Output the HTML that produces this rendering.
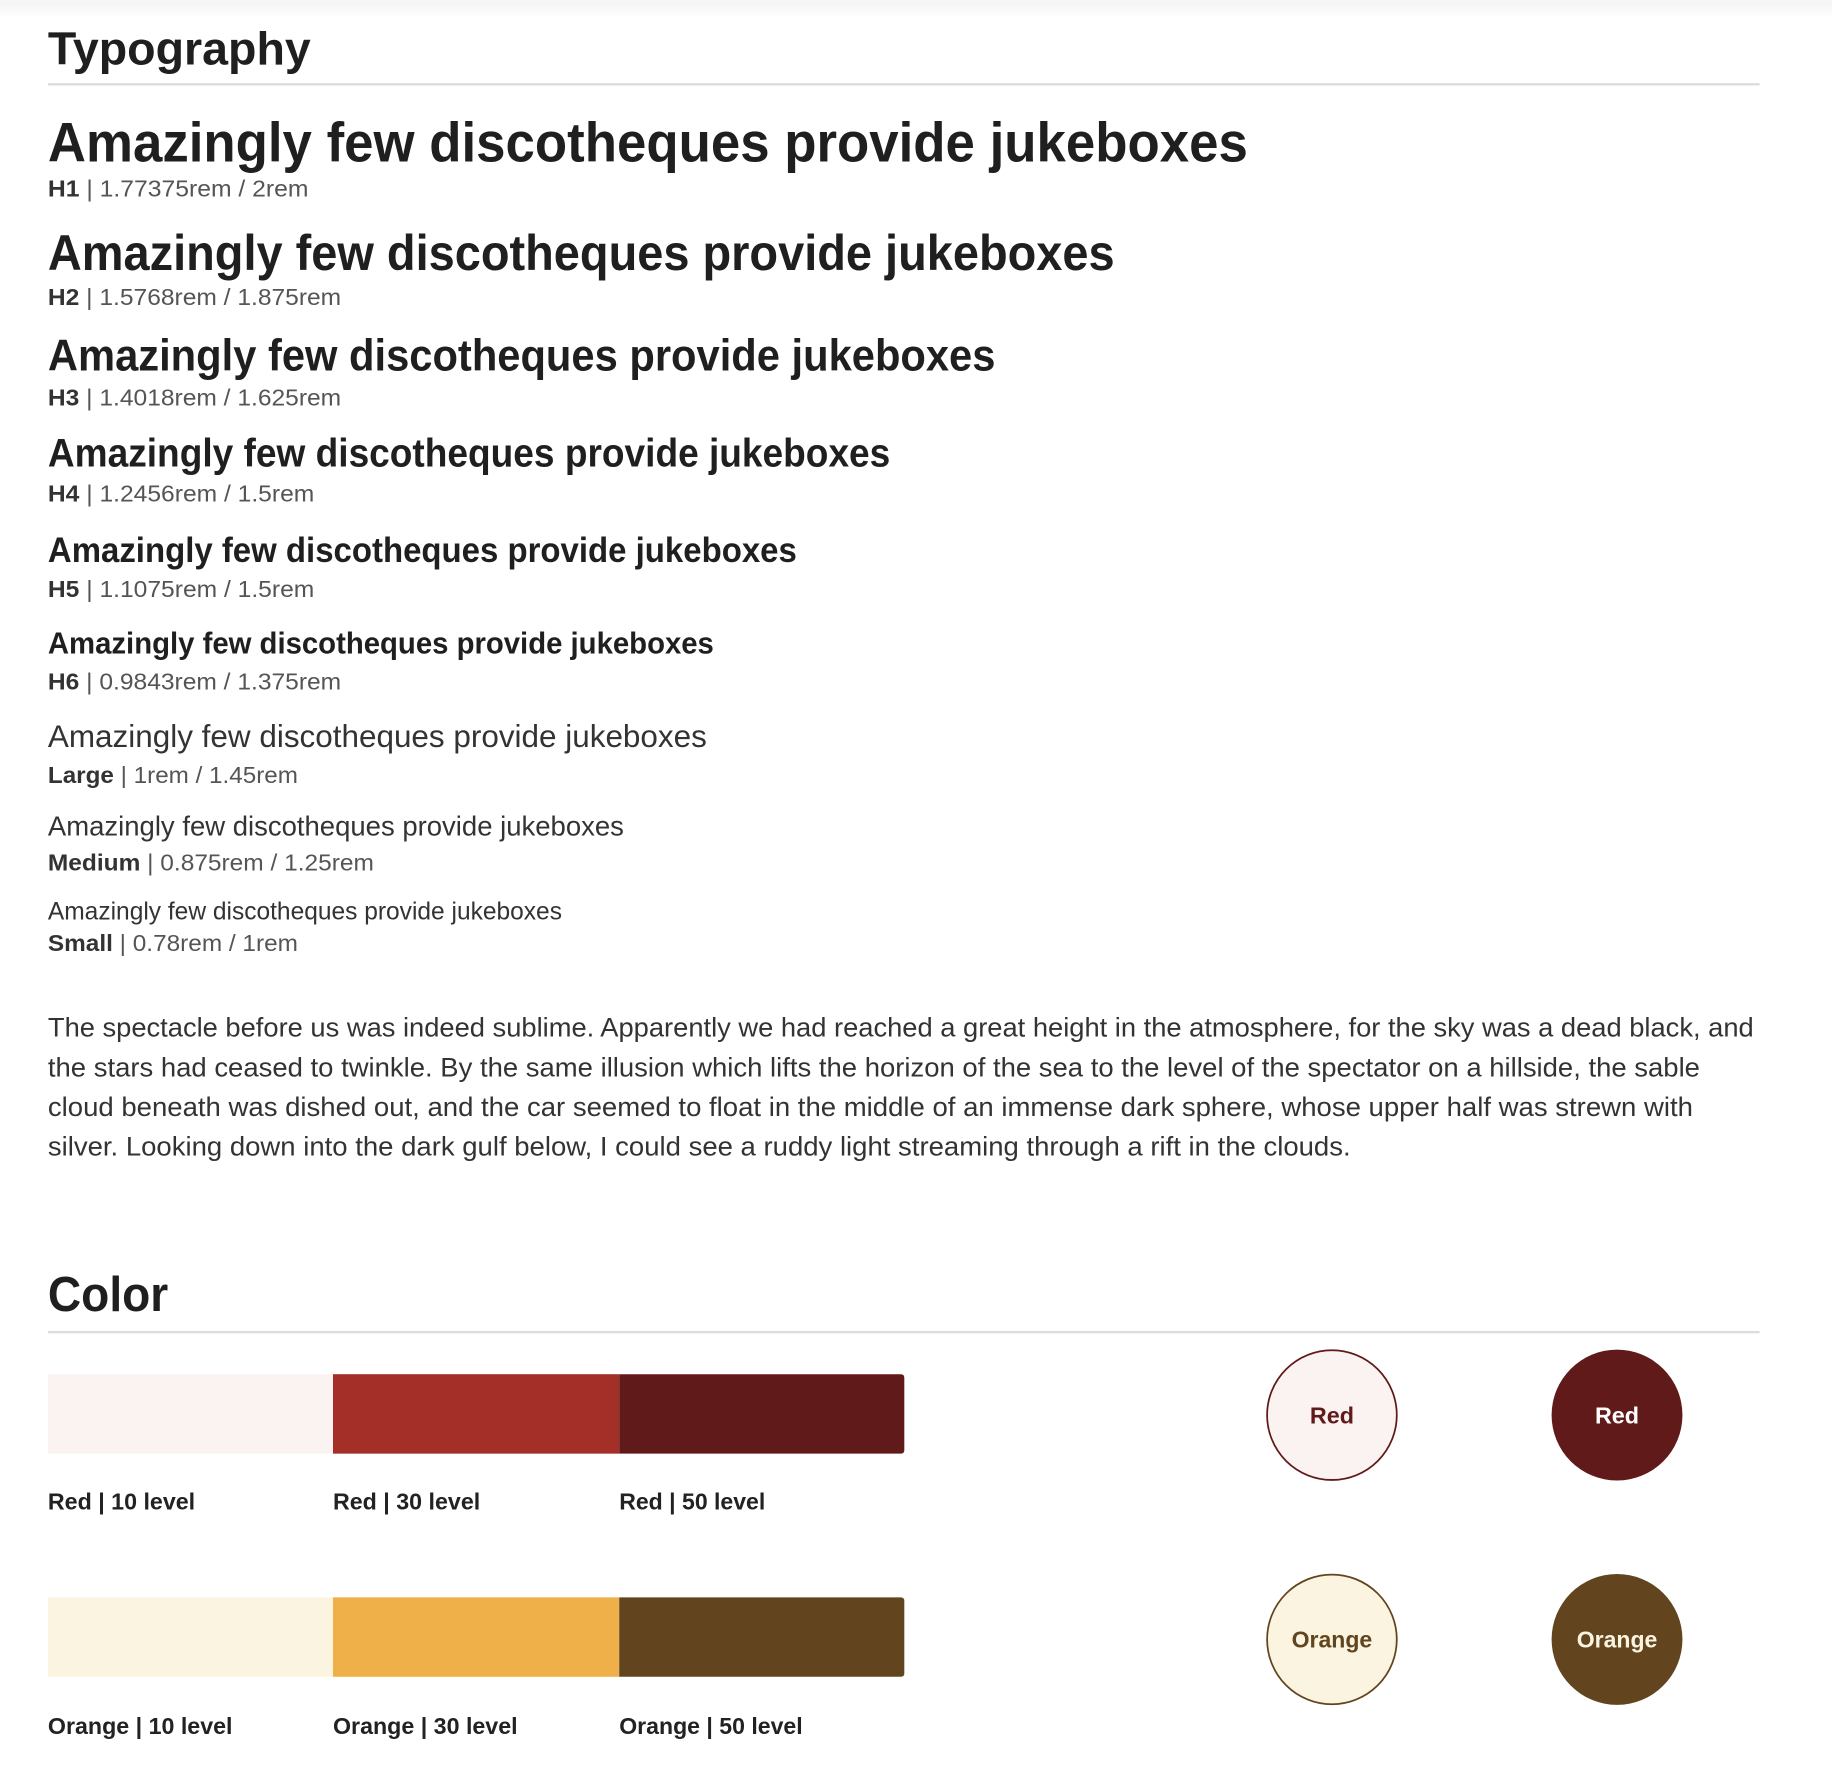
<!DOCTYPE html>
<html><head><meta charset="utf-8"><style>
html,body{margin:0;padding:0;background:#fff;width:1832px;height:1788px;overflow:hidden}
svg{display:block}
text{font-family:"Liberation Sans",Arial,sans-serif}
.h{font-weight:bold;fill:#1f1f1f}
.c{fill:#555;font-size:20px}
.c tspan.b{font-weight:bold;fill:#333}
.p{fill:#333;font-size:23px}
.lbl{font-weight:bold;font-size:20px;fill:#222}
</style></head><body>
<svg width="1832" height="1788" viewBox="0 0 1568 1530" xmlns="http://www.w3.org/2000/svg">
<defs><linearGradient id="tg" x1="0" y1="0" x2="0" y2="1"><stop offset="0" stop-color="#f3f3f3"/><stop offset="1" stop-color="#fff"/></linearGradient></defs>
<rect x="0" y="0" width="1568" height="16" fill="url(#tg)"/>

<text class="h" x="41" y="55" font-size="40" textLength="225" lengthAdjust="spacingAndGlyphs">Typography</text>
<rect x="41" y="71" width="1465" height="2" fill="#dcdcdc"/>

<text class="h" x="41" y="138" font-size="48" textLength="1027" lengthAdjust="spacingAndGlyphs">Amazingly few discotheques provide jukeboxes</text>
<text class="c" x="41" y="168" textLength="223" lengthAdjust="spacingAndGlyphs"><tspan class="b">H1</tspan> | 1.77375rem / 2rem</text>

<text class="h" x="41" y="231" font-size="43" textLength="913" lengthAdjust="spacingAndGlyphs">Amazingly few discotheques provide jukeboxes</text>
<text class="c" x="41" y="261" textLength="251" lengthAdjust="spacingAndGlyphs"><tspan class="b">H2</tspan> | 1.5768rem / 1.875rem</text>

<text class="h" x="41" y="317" font-size="38" textLength="811" lengthAdjust="spacingAndGlyphs">Amazingly few discotheques provide jukeboxes</text>
<text class="c" x="41" y="347" textLength="251" lengthAdjust="spacingAndGlyphs"><tspan class="b">H3</tspan> | 1.4018rem / 1.625rem</text>

<text class="h" x="41" y="399" font-size="34" textLength="721" lengthAdjust="spacingAndGlyphs">Amazingly few discotheques provide jukeboxes</text>
<text class="c" x="41" y="429" textLength="228" lengthAdjust="spacingAndGlyphs"><tspan class="b">H4</tspan> | 1.2456rem / 1.5rem</text>

<text class="h" x="41" y="481" font-size="30" textLength="641" lengthAdjust="spacingAndGlyphs">Amazingly few discotheques provide jukeboxes</text>
<text class="c" x="41" y="511" textLength="228" lengthAdjust="spacingAndGlyphs"><tspan class="b">H5</tspan> | 1.1075rem / 1.5rem</text>

<text class="h" x="41" y="559" font-size="26" textLength="570" lengthAdjust="spacingAndGlyphs">Amazingly few discotheques provide jukeboxes</text>
<text class="c" x="41" y="590" textLength="251" lengthAdjust="spacingAndGlyphs"><tspan class="b">H6</tspan> | 0.9843rem / 1.375rem</text>

<text x="41" y="639" font-size="27" fill="#333" textLength="564" lengthAdjust="spacingAndGlyphs">Amazingly few discotheques provide jukeboxes</text>
<text class="c" x="41" y="670" textLength="214" lengthAdjust="spacingAndGlyphs"><tspan class="b">Large</tspan> | 1rem / 1.45rem</text>

<text x="41" y="715" font-size="24" fill="#333" textLength="493" lengthAdjust="spacingAndGlyphs">Amazingly few discotheques provide jukeboxes</text>
<text class="c" x="41" y="745" textLength="279" lengthAdjust="spacingAndGlyphs"><tspan class="b">Medium</tspan> | 0.875rem / 1.25rem</text>

<text x="41" y="787" font-size="21" fill="#333" textLength="440" lengthAdjust="spacingAndGlyphs">Amazingly few discotheques provide jukeboxes</text>
<text class="c" x="41" y="814" textLength="214" lengthAdjust="spacingAndGlyphs"><tspan class="b">Small</tspan> | 0.78rem / 1rem</text>

<g>
<text class="p" x="41" y="887" textLength="1460" lengthAdjust="spacingAndGlyphs">The spectacle before us was indeed sublime. Apparently we had reached a great height in the atmosphere, for the sky was a dead black, and</text>
<text class="p" x="41" y="921" textLength="1414" lengthAdjust="spacingAndGlyphs">the stars had ceased to twinkle. By the same illusion which lifts the horizon of the sea to the level of the spectator on a hillside, the sable</text>
<text class="p" x="41" y="955" textLength="1408" lengthAdjust="spacingAndGlyphs">cloud beneath was dished out, and the car seemed to float in the middle of an immense dark sphere, whose upper half was strewn with</text>
<text class="p" x="41" y="989" textLength="1115" lengthAdjust="spacingAndGlyphs">silver. Looking down into the dark gulf below, I could see a ruddy light streaming through a rift in the clouds.</text>
</g>

<text class="h" x="41" y="1122" font-size="42" textLength="103" lengthAdjust="spacingAndGlyphs">Color</text>
<rect x="41" y="1139" width="1465" height="2" fill="#dcdcdc"/>

<g>
<rect x="41" y="1176" width="244" height="68" fill="#fbf3f2"/>
<rect x="285" y="1176" width="245" height="68" fill="#a32f28"/>
<path d="M530 1176 H771 Q774 1176 774 1179 V1241 Q774 1244 771 1244 H530 Z" fill="#5f1a19"/>
<text class="lbl" x="41" y="1292" textLength="126" lengthAdjust="spacingAndGlyphs">Red | 10 level</text>
<text class="lbl" x="285" y="1292" textLength="126" lengthAdjust="spacingAndGlyphs">Red | 30 level</text>
<text class="lbl" x="530" y="1292" textLength="125" lengthAdjust="spacingAndGlyphs">Red | 50 level</text>
</g>
<g>
<circle cx="1140" cy="1211" r="55.5" fill="#fbf3f2" stroke="#5f1a19" stroke-width="1.5"/>
<text x="1140" y="1218" text-anchor="middle" font-weight="bold" font-size="20" fill="#5f1a19">Red</text>
<circle cx="1384" cy="1211" r="56" fill="#5f1a19"/>
<text x="1384" y="1218" text-anchor="middle" font-weight="bold" font-size="20" fill="#fff">Red</text>
</g>

<g>
<rect x="41" y="1367" width="244" height="68" fill="#faf4e0"/>
<rect x="285" y="1367" width="245" height="68" fill="#efb049"/>
<path d="M530 1367 H771 Q774 1367 774 1370 V1432 Q774 1435 771 1435 H530 Z" fill="#62451e"/>
<text class="lbl" x="41" y="1484" textLength="158" lengthAdjust="spacingAndGlyphs">Orange | 10 level</text>
<text class="lbl" x="285" y="1484" textLength="158" lengthAdjust="spacingAndGlyphs">Orange | 30 level</text>
<text class="lbl" x="530" y="1484" textLength="157" lengthAdjust="spacingAndGlyphs">Orange | 50 level</text>
</g>
<g>
<circle cx="1140" cy="1403" r="55.5" fill="#faf4e0" stroke="#62451e" stroke-width="1.5"/>
<text x="1140" y="1410" text-anchor="middle" font-weight="bold" font-size="20" fill="#62451e" textLength="69" lengthAdjust="spacingAndGlyphs">Orange</text>
<circle cx="1384" cy="1403" r="56" fill="#62451e"/>
<text x="1384" y="1410" text-anchor="middle" font-weight="bold" font-size="20" fill="#faf4e0" textLength="69" lengthAdjust="spacingAndGlyphs">Orange</text>
</g>
</svg>
</body></html>
